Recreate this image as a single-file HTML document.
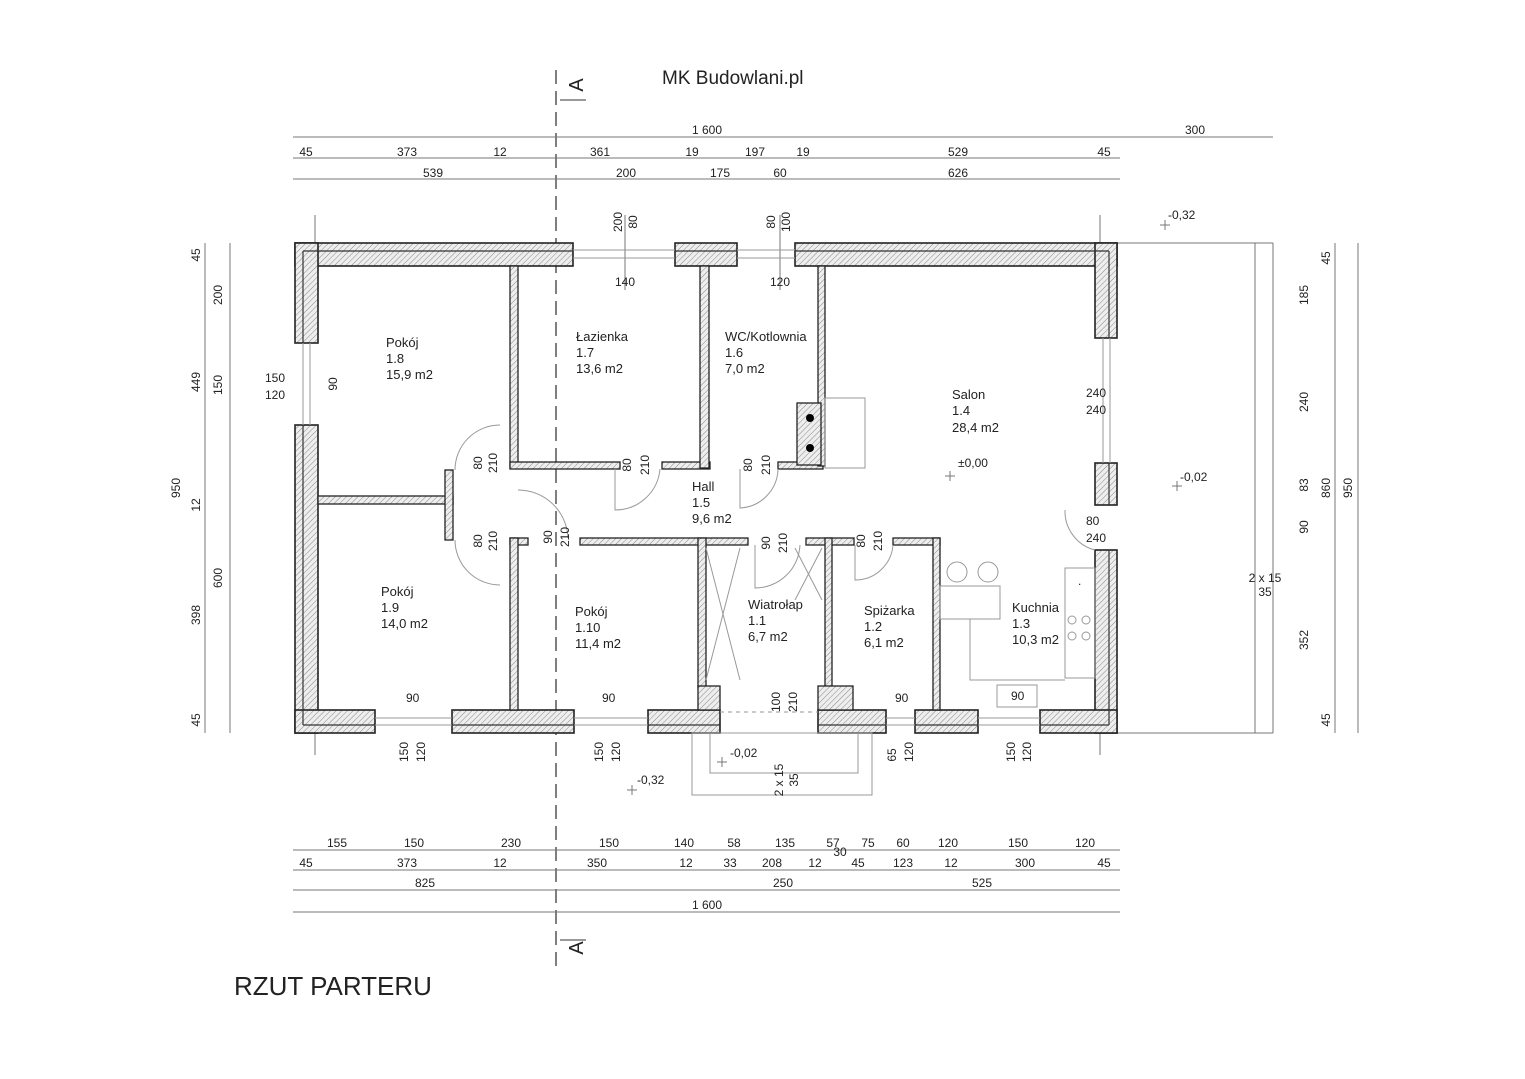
<!DOCTYPE html>
<html><head><meta charset="utf-8"><style>
html,body{margin:0;padding:0;background:#fff}
svg{display:block}
text{font-family:"Liberation Sans",sans-serif;fill:#222}
.d{font-size:12px}
.r{font-size:13px}
.w{fill:#e2e2e2;stroke:#222;stroke-width:1.6}
.iw{fill:#d8d8d8;stroke:#222;stroke-width:1.3}
.dl{stroke:#777;stroke-width:1;fill:none}
.th{stroke:#999;stroke-width:1;fill:none}
.il{stroke:#333;stroke-width:1.2}
</style></head><body>
<svg width="1525" height="1079" viewBox="0 0 1525 1079" xmlns="http://www.w3.org/2000/svg">
<defs><pattern id="h" width="4" height="4" patternUnits="userSpaceOnUse" patternTransform="rotate(45)"><rect width="4" height="4" fill="#eee"/><line x1="0" y1="0" x2="0" y2="4" stroke="#888" stroke-width="1"/></pattern></defs>

<text x="662" y="84" style="font-size:19px">MK Budowlani.pl</text>
<text x="234" y="995" style="font-size:26px">RZUT  PARTERU</text>

<line x1="556" y1="70" x2="556" y2="970" stroke="#555" stroke-width="1.5" stroke-dasharray="14,7"/>
<text x="580" y="92" transform="rotate(-90 578 87)" style="font-size:20px" text-anchor="middle">A</text>
<line x1="560" y1="100" x2="586" y2="100" stroke="#333"/>
<text x="580" y="955" transform="rotate(-90 578 950)" style="font-size:20px" text-anchor="middle">A</text>
<line x1="560" y1="940" x2="586" y2="940" stroke="#333"/>

<g class="dl">
<line x1="293" y1="137" x2="1273" y2="137"/>
<line x1="293" y1="158" x2="1120" y2="158"/>
<line x1="293" y1="179" x2="1120" y2="179"/>
<line x1="293" y1="850" x2="1120" y2="850"/>
<line x1="293" y1="870" x2="1120" y2="870"/>
<line x1="293" y1="890" x2="1120" y2="890"/>
<line x1="293" y1="912" x2="1120" y2="912"/>
<line x1="205" y1="243" x2="205" y2="733"/>
<line x1="230" y1="243" x2="230" y2="733"/>
<line x1="1335" y1="243" x2="1335" y2="733"/>
<line x1="1358" y1="243" x2="1358" y2="733"/>
<line x1="1255" y1="243" x2="1255" y2="733"/>
<line x1="1273" y1="243" x2="1273" y2="733"/>
<line x1="1117" y1="243" x2="1273" y2="243"/>
<line x1="1117" y1="733" x2="1273" y2="733"/>
<line x1="315" y1="215" x2="315" y2="243"/><line x1="1100" y1="215" x2="1100" y2="243"/>
<line x1="315" y1="733" x2="315" y2="755"/><line x1="1100" y1="733" x2="1100" y2="755"/>
<line x1="625" y1="215" x2="625" y2="290"/><line x1="780" y1="215" x2="780" y2="290"/>
</g>
<g class="d" text-anchor="middle">
<text x="707" y="134">1 600</text><text x="1195" y="134">300</text>
<text x="306" y="156">45</text><text x="407" y="156">373</text><text x="500" y="156">12</text><text x="600" y="156">361</text><text x="692" y="156">19</text><text x="755" y="156">197</text><text x="803" y="156">19</text><text x="958" y="156">529</text><text x="1104" y="156">45</text>
<text x="433" y="177">539</text><text x="626" y="177">200</text><text x="720" y="177">175</text><text x="780" y="177">60</text><text x="958" y="177">626</text>
<text x="337" y="847">155</text><text x="414" y="847">150</text><text x="511" y="847">230</text><text x="609" y="847">150</text><text x="684" y="847">140</text><text x="734" y="847">58</text><text x="785" y="847">135</text><text x="833" y="847">57</text><text x="868" y="847">75</text><text x="903" y="847">60</text><text x="948" y="847">120</text><text x="1018" y="847">150</text><text x="1085" y="847">120</text>
<text x="306" y="867">45</text><text x="407" y="867">373</text><text x="500" y="867">12</text><text x="597" y="867">350</text><text x="686" y="867">12</text><text x="730" y="867">33</text><text x="772" y="867">208</text><text x="815" y="867">12</text><text x="858" y="867">45</text><text x="903" y="867">123</text><text x="951" y="867">12</text><text x="1025" y="867">300</text><text x="1104" y="867">45</text><text x="840" y="856">30</text>
<text x="425" y="887">825</text><text x="783" y="887">250</text><text x="982" y="887">525</text>
<text x="707" y="909">1 600</text>
</g>
<g class="d" text-anchor="middle">
<text transform="translate(200,255) rotate(-90)">45</text><text transform="translate(200,382) rotate(-90)">449</text><text transform="translate(200,505) rotate(-90)">12</text><text transform="translate(200,615) rotate(-90)">398</text><text transform="translate(200,720) rotate(-90)">45</text>
<text transform="translate(222,295) rotate(-90)">200</text><text transform="translate(222,385) rotate(-90)">150</text><text transform="translate(222,578) rotate(-90)">600</text>
<text transform="translate(180,488) rotate(-90)">950</text>
<text transform="translate(1330,258) rotate(-90)">45</text><text transform="translate(1308,295) rotate(-90)">185</text><text transform="translate(1308,402) rotate(-90)">240</text><text transform="translate(1308,485) rotate(-90)">83</text><text transform="translate(1308,527) rotate(-90)">90</text><text transform="translate(1308,640) rotate(-90)">352</text><text transform="translate(1330,720) rotate(-90)">45</text>
<text transform="translate(1330,488) rotate(-90)">860</text><text transform="translate(1352,488) rotate(-90)">950</text>
<text x="1265" y="582">2 x 15</text><text x="1265" y="596">35</text>
</g>

<g class="w">
<rect x="295" y="243" width="278" height="23" fill="url(#h)"/>
<rect x="675" y="243" width="62" height="23" fill="url(#h)"/>
<rect x="795" y="243" width="322" height="23" fill="url(#h)"/>
<rect x="295" y="243" width="23" height="100" fill="url(#h)"/>
<rect x="295" y="425" width="23" height="308" fill="url(#h)"/>
<rect x="1095" y="243" width="22" height="95" fill="url(#h)"/>
<rect x="1095" y="463" width="22" height="42" fill="url(#h)"/>
<rect x="1095" y="550" width="22" height="183" fill="url(#h)"/>
<rect x="295" y="710" width="80" height="23" fill="url(#h)"/>
<rect x="452" y="710" width="122" height="23" fill="url(#h)"/>
<rect x="648" y="710" width="72" height="23" fill="url(#h)"/>
<rect x="818" y="710" width="68" height="23" fill="url(#h)"/>
<rect x="915" y="710" width="63" height="23" fill="url(#h)"/>
<rect x="1040" y="710" width="77" height="23" fill="url(#h)"/>
</g>
<g class="il">
<line x1="303" y1="251" x2="573" y2="251"/><line x1="675" y1="251" x2="737" y2="251"/><line x1="795" y1="251" x2="1109" y2="251"/>
<line x1="303" y1="251" x2="303" y2="343"/><line x1="303" y1="425" x2="303" y2="725"/>
<line x1="1109" y1="251" x2="1109" y2="338"/><line x1="1109" y1="463" x2="1109" y2="505"/><line x1="1109" y1="550" x2="1109" y2="725"/>
<line x1="303" y1="725" x2="375" y2="725"/><line x1="452" y1="725" x2="574" y2="725"/><line x1="648" y1="725" x2="720" y2="725"/><line x1="818" y1="725" x2="886" y2="725"/><line x1="915" y1="725" x2="978" y2="725"/><line x1="1040" y1="725" x2="1109" y2="725"/>
</g>
<g class="th">
<line x1="573" y1="250" x2="675" y2="250"/><line x1="573" y1="258" x2="675" y2="258"/>
<line x1="737" y1="250" x2="795" y2="250"/><line x1="737" y1="258" x2="795" y2="258"/>
<line x1="303" y1="343" x2="303" y2="425"/><line x1="310" y1="343" x2="310" y2="425"/>
<line x1="1103" y1="338" x2="1103" y2="463"/><line x1="1110" y1="338" x2="1110" y2="463"/>
<line x1="375" y1="718" x2="452" y2="718"/><line x1="375" y1="725" x2="452" y2="725"/>
<line x1="574" y1="718" x2="648" y2="718"/><line x1="574" y1="725" x2="648" y2="725"/>
<line x1="886" y1="718" x2="915" y2="718"/><line x1="886" y1="725" x2="915" y2="725"/>
<line x1="978" y1="718" x2="1040" y2="718"/><line x1="978" y1="725" x2="1040" y2="725"/>
</g>

<g class="iw">
<rect x="510" y="266" width="8" height="202" fill="url(#h)"/>
<rect x="510" y="462" width="110" height="7" fill="url(#h)"/>
<rect x="662" y="462" width="48" height="7" fill="url(#h)"/>
<rect x="700" y="266" width="9" height="202" fill="url(#h)"/>
<rect x="778" y="462" width="45" height="7" fill="url(#h)"/>
<rect x="818" y="266" width="7" height="200" fill="url(#h)"/>
<rect x="318" y="496" width="135" height="8" fill="url(#h)"/>
<rect x="445" y="470" width="8" height="70" fill="url(#h)"/>
<rect x="510" y="538" width="18" height="7" fill="url(#h)"/>
<rect x="510" y="538" width="8" height="172" fill="url(#h)"/>
<rect x="580" y="538" width="168" height="7" fill="url(#h)"/>
<rect x="698" y="538" width="8" height="150" fill="url(#h)"/>
<rect x="806" y="538" width="48" height="7" fill="url(#h)"/>
<rect x="825" y="538" width="7" height="150" fill="url(#h)"/>
<rect x="893" y="538" width="47" height="7" fill="url(#h)"/>
<rect x="933" y="538" width="7" height="172" fill="url(#h)"/>
<rect x="698" y="686" width="22" height="24" fill="url(#h)"/>
<rect x="818" y="686" width="35" height="24" fill="url(#h)"/>
<rect x="797" y="403" width="24" height="62" fill="url(#h)"/>
</g>
<circle cx="810" cy="418" r="4" fill="#000"/><circle cx="810" cy="448" r="4" fill="#000"/>
<rect x="825" y="398" width="40" height="70" class="th"/>

<g class="th">
<line x1="720" y1="712" x2="818" y2="712" stroke-dasharray="4,4"/>
<line x1="720" y1="733" x2="818" y2="733" stroke-dasharray="4,4"/>
<rect x="710" y="733" width="148" height="40"/>
<rect x="692" y="733" width="180" height="62"/>
</g>
<text x="730" y="757" class="d">-0,02</text>

<g class="th">
<path d="M455 470 A 45 45 0 0 1 500 425"/><path d="M455 540 A 45 45 0 0 0 500 585"/>
<path d="M615 469 L615 510 A 45 45 0 0 0 660 469"/>
<path d="M740 469 L740 508 A 40 40 0 0 0 778 469"/>
<path d="M518 490 A 50 50 0 0 1 568 538"/>
<path d="M755 545 L755 588 A 45 45 0 0 0 800 545"/>
<path d="M855 545 L855 580 A 38 38 0 0 0 893 545"/>
<path d="M1065 510 A 40 40 0 0 0 1095 550"/>
<path d="M706 548 L740 680 M740 548 L706 680 M795 548 L822 600 M822 548 L795 600"/>
<circle cx="957" cy="572" r="10"/><circle cx="988" cy="572" r="10"/>
<rect x="940" y="586" width="60" height="33"/>
<path d="M970 619 L970 680 L1065 680"/>
<rect x="1065" y="568" width="30" height="110"/>
<rect x="997" y="685" width="40" height="22"/>
<circle cx="1072" cy="620" r="4"/><circle cx="1086" cy="620" r="4"/><circle cx="1072" cy="636" r="4"/><circle cx="1086" cy="636" r="4"/>
</g>
<text x="1078" y="585" class="d">.</text>

<g class="r">
<text x="386" y="347">Pokój</text><text x="386" y="363">1.8</text><text x="386" y="379">15,9 m2</text>
<text x="576" y="341">Łazienka</text><text x="576" y="357">1.7</text><text x="576" y="373">13,6 m2</text>
<text x="725" y="341">WC/Kotlownia</text><text x="725" y="357">1.6</text><text x="725" y="373">7,0 m2</text>
<text x="952" y="399">Salon</text><text x="952" y="415">1.4</text><text x="952" y="432">28,4 m2</text>
<text x="692" y="491">Hall</text><text x="692" y="507">1.5</text><text x="692" y="523">9,6 m2</text>
<text x="381" y="596">Pokój</text><text x="381" y="612">1.9</text><text x="381" y="628">14,0 m2</text>
<text x="575" y="616">Pokój</text><text x="575" y="632">1.10</text><text x="575" y="648">11,4 m2</text>
<text x="748" y="609">Wiatrołap</text><text x="748" y="625">1.1</text><text x="748" y="641">6,7 m2</text>
<text x="864" y="615">Spiżarka</text><text x="864" y="631">1.2</text><text x="864" y="647">6,1 m2</text>
<text x="1012" y="612">Kuchnia</text><text x="1012" y="628">1.3</text><text x="1012" y="644">10,3 m2</text>
</g>
<g class="d">
<text x="958" y="467">±0,00</text><text x="1168" y="219">-0,32</text><text x="1180" y="481">-0,02</text><text x="637" y="784">-0,32</text>
<text x="615" y="286">140</text><text x="770" y="286">120</text>
<text x="265" y="382">150</text><text x="265" y="399">120</text>
<text x="1086" y="397">240</text><text x="1086" y="414">240</text>
<text x="1086" y="525">80</text><text x="1086" y="542">240</text>
<text x="406" y="702">90</text><text x="602" y="702">90</text><text x="895" y="702">90</text><text x="1011" y="700">90</text>
</g>
<g class="d" text-anchor="middle">
<text transform="translate(622,222) rotate(-90)">200</text><text transform="translate(637,222) rotate(-90)">80</text>
<text transform="translate(775,222) rotate(-90)">80</text><text transform="translate(790,222) rotate(-90)">100</text>
<text transform="translate(337,384) rotate(-90)">90</text>
<text transform="translate(482,463) rotate(-90)">80</text><text transform="translate(497,463) rotate(-90)">210</text>
<text transform="translate(482,541) rotate(-90)">80</text><text transform="translate(497,541) rotate(-90)">210</text>
<text transform="translate(631,465) rotate(-90)">80</text><text transform="translate(649,465) rotate(-90)">210</text>
<text transform="translate(752,465) rotate(-90)">80</text><text transform="translate(770,465) rotate(-90)">210</text>
<text transform="translate(552,537) rotate(-90)">90</text><text transform="translate(569,537) rotate(-90)">210</text>
<text transform="translate(770,543) rotate(-90)">90</text><text transform="translate(787,543) rotate(-90)">210</text>
<text transform="translate(865,541) rotate(-90)">80</text><text transform="translate(882,541) rotate(-90)">210</text>
<text transform="translate(780,702) rotate(-90)">100</text><text transform="translate(797,702) rotate(-90)">210</text>
<text transform="translate(408,752) rotate(-90)">150</text><text transform="translate(425,752) rotate(-90)">120</text>
<text transform="translate(603,752) rotate(-90)">150</text><text transform="translate(620,752) rotate(-90)">120</text>
<text transform="translate(896,755) rotate(-90)">65</text><text transform="translate(913,752) rotate(-90)">120</text>
<text transform="translate(1015,752) rotate(-90)">150</text><text transform="translate(1031,752) rotate(-90)">120</text>
<text transform="translate(783,780) rotate(-90)">2 x 15</text><text transform="translate(798,780) rotate(-90)">35</text>
</g>
<g stroke="#777"><path d="M945 476h10M950 471v10M1160 225h10M1165 220v10M1172 486h10M1177 481v10M627 790h10M632 785v10M717 762h10M722 757v10"/></g>
</svg>
</body></html>
